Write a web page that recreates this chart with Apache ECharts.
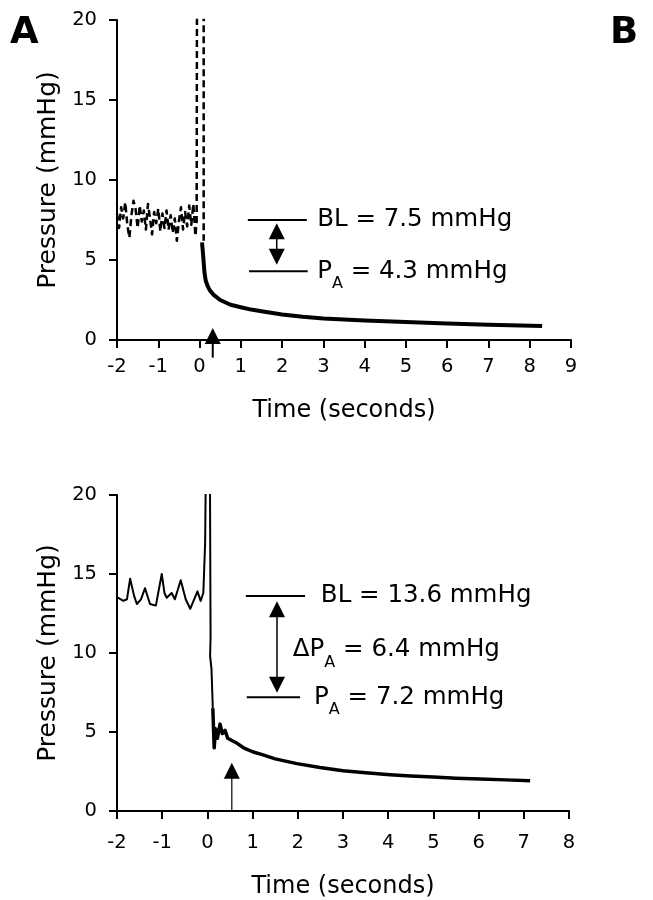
<!DOCTYPE html>
<html><head><meta charset="utf-8">
<script src="https://cdn.jsdelivr.net/npm/echarts@6/dist/echarts.min.js"></script>
<style>html,body{margin:0;padding:0;background:#fff}#c{width:653px;height:900px}</style>
</head><body><div id="c"></div>
<script>
// ---------- data (time in s, pressure in mmHg) ----------
const topXRange = [-2, 9];
const botXRange = [-2, 8];
const yRange = [0, 20];
const yStep = 5;

// Panel A (top): dashed baseline + spike, solid decay
const topBaseline = [
  [-2.00,7.9],[-1.95,7.0],[-1.90,8.3],[-1.85,7.6],[-1.80,8.6],[-1.75,7.2],[-1.70,6.4],[-1.65,7.8],
  [-1.60,8.7],[-1.55,8.2],[-1.50,7.0],[-1.45,8.4],[-1.40,7.4],[-1.35,8.1],[-1.30,6.9],[-1.25,8.5],
  [-1.20,7.6],[-1.15,6.6],[-1.10,8.0],[-1.05,7.3],[-1.00,8.2],[-0.95,6.8],[-0.90,7.9],[-0.85,7.0],
  [-0.80,8.1],[-0.75,6.9],[-0.70,7.8],[-0.65,6.7],[-0.60,7.6],[-0.55,6.2],[-0.50,7.4],[-0.45,8.3],
  [-0.40,6.9],[-0.35,8.0],[-0.30,7.1],[-0.25,8.4],[-0.20,7.2],[-0.15,8.5],[-0.10,6.5],[-0.07,7.4],
  [-0.06,26],[0.10,26],[0.10,6.2]
];
const topDecay = [
  [0.06,6.1],[0.09,5.2],[0.12,4.2],[0.15,3.7],[0.20,3.35],[0.25,3.1],[0.35,2.8],[0.50,2.5],
  [0.75,2.2],[1.00,2.05],[1.25,1.9],[1.50,1.8],[2.00,1.6],[2.50,1.45],[3.00,1.35],[4.00,1.22],
  [5.00,1.12],[6.00,1.03],[7.00,0.96],[8.30,0.88]
];

// Panel A (bottom): solid baseline + spike, thick decay
const botTrace = [
  [-1.98,13.5],[-1.86,13.3],[-1.78,13.4],[-1.71,14.7],[-1.62,13.6],[-1.56,13.1],[-1.47,13.4],
  [-1.38,14.1],[-1.27,13.1],[-1.14,13.0],[-1.01,15.0],[-0.95,13.8],[-0.90,13.5],[-0.79,13.8],
  [-0.72,13.4],[-0.59,14.6],[-0.48,13.4],[-0.38,12.8],[-0.22,13.9],[-0.15,13.3],[-0.09,13.8],
  [-0.05,17.0],[-0.02,26],[0.05,26],[0.07,11.0],[0.06,9.8],[0.09,9.0],[0.12,6.5]
];
const botDecay = [
  [0.12,6.5],[0.15,4.0],[0.18,5.2],[0.22,4.6],[0.28,5.5],[0.33,4.9],[0.39,5.1],[0.45,4.6],
  [0.55,4.45],[0.65,4.3],[0.80,4.0],[1.00,3.75],[1.23,3.55],[1.50,3.3],[1.98,3.0],[2.49,2.75],
  [3.00,2.55],[3.50,2.42],[4.04,2.3],[4.50,2.22],[5.00,2.15],[5.50,2.08],[6.03,2.03],[6.60,1.97],
  [7.14,1.92]
];

// annotations: levels [x1, x2, y], arrows [x, yFrom, yTo], texts at [x, y]
const topLevels = [[1.17, 2.60, 7.5], [1.20, 2.62, 4.3]];
const topDoubleArrow = [1.87, 7.3, 4.7];
const topMarkArrow = [0.32, -1.1, 0.75];
const topTexts = [
  {x: 2.85, y: 7.5, parts: [['n','BL = 7.5 mmHg']]},
  {x: 2.85, y: 4.3, parts: [['n','P'],['s','A'],['n',' = 4.3 mmHg']]}
];
const botLevels = [[0.85, 2.16, 13.6], [0.87, 2.05, 7.2]];
const botDoubleArrow = [1.54, 13.27, 7.49];
const botMarkArrow = [0.54, 0.0, 3.05];
const botTexts = [
  {x: 2.51, y: 13.6, parts: [['n','BL = 13.6 mmHg']]},
  {x: 1.89, y: 10.2, parts: [['n','ΔP'],['s','A'],['n',' = 6.4 mmHg']]},
  {x: 2.36, y: 7.2, parts: [['n','P'],['s','A'],['n',' = 7.2 mmHg']]}
];

// ---------- chart ----------
const FONT = 'DejaVu Sans';
const chart = echarts.init(document.getElementById('c'), null, {renderer: 'canvas'});

function xAxis(gi, range, labelMargin, nameGap) {
  return {
    type: 'value', gridIndex: gi, min: range[0], max: range[1], interval: 1,
    name: 'Time (seconds)', nameLocation: 'middle', nameGap: nameGap,
    nameTextStyle: {fontFamily: FONT, fontSize: 24, color: '#000'},
    axisLine: {onZero: false, lineStyle: {color: '#000', width: 2}},
    axisTick: {show: true, inside: false, length: 8, lineStyle: {color: '#000', width: 2}},
    axisLabel: {fontFamily: FONT, fontSize: 19.5, color: '#000', margin: labelMargin},
    splitLine: {show: false}
  };
}
function yAxis(gi) {
  return {
    type: 'value', gridIndex: gi, min: yRange[0], max: yRange[1], interval: yStep,
    name: 'Pressure (mmHg)', nameLocation: 'middle', nameGap: 56, nameRotate: 90,
    nameTextStyle: {fontFamily: FONT, fontSize: 25, color: '#000'},
    axisLine: {show: true, onZero: false, lineStyle: {color: '#000', width: 2}},
    axisTick: {show: true, inside: false, length: 8, lineStyle: {color: '#000', width: 2}},
    axisLabel: {fontFamily: FONT, fontSize: 19.5, color: '#000', margin: 20},
    splitLine: {show: false}
  };
}
function lineSeries(gi, data, width, type) {
  return {
    type: 'line', xAxisIndex: gi, yAxisIndex: gi, data: data, showSymbol: false, symbol: 'none',
    clip: true, animation: false,
    lineStyle: {color: '#000', width: width, type: type || 'solid', cap: 'butt', join: 'round'}
  };
}

chart.setOption({
  animation: false,
  backgroundColor: '#fff',
  grid: [
    {left: 117, top: 20, width: 454, height: 320},
    {left: 117, top: 495, width: 452, height: 316}
  ],
  xAxis: [xAxis(0, topXRange, 17, 59), xAxis(1, botXRange, 22, 64)],
  yAxis: [yAxis(0), yAxis(1)],
  series: [
    lineSeries(0, topBaseline, 2.5, [7, 4]),
    lineSeries(0, topDecay, 4),
    lineSeries(1, botTrace, 2),
    lineSeries(1, botDecay, 3.5)
  ]
});

function P(gi, x, y) { return chart.convertToPixel({gridIndex: gi}, [x, y]); }

function tri(x, tipY, dir) { // dir -1: pointing up, +1: pointing down
  const h = 16, w = 8;
  return {type: 'polygon', shape: {points: [[x, tipY], [x - w, tipY - dir * h], [x + w, tipY - dir * h]]},
          style: {fill: '#000'}, silent: true};
}
function annotate(gi, levels, dbl, mark, markW, texts) {
  const g = [];
  levels.forEach(l => {
    const a = P(gi, l[0], l[2]), b = P(gi, l[1], l[2]);
    g.push({type: 'line', shape: {x1: a[0], y1: a[1], x2: b[0], y2: b[1]}, style: {stroke: '#000', lineWidth: 2}});
  });
  const t = P(gi, dbl[0], dbl[1]), bm = P(gi, dbl[0], dbl[2]);
  g.push({type: 'line', shape: {x1: t[0], y1: t[1] + 10, x2: bm[0], y2: bm[1] - 10}, style: {stroke: '#000', lineWidth: 1.5}});
  g.push(tri(t[0], t[1], -1));
  g.push(tri(bm[0], bm[1], 1));
  const m0 = P(gi, mark[0], mark[1]), m1 = P(gi, mark[0], mark[2]);
  g.push({type: 'line', shape: {x1: m0[0], y1: m0[1], x2: m1[0], y2: m1[1] + 10}, style: {stroke: '#000', lineWidth: markW}});
  g.push(tri(m1[0], m1[1], -1));
  texts.forEach(tx => {
    const p = P(gi, tx.x, tx.y);
    const str = tx.parts.map(pt => '{' + pt[0] + '|' + pt[1] + '}').join('');
    g.push({type: 'text', x: p[0], y: p[1], silent: true,
      style: {text: str, align: 'left', verticalAlign: 'middle', fill: '#000',
        rich: {
          n: {fontFamily: FONT, fontSize: 24.5, lineHeight: 42, verticalAlign: 'middle', fill: '#000'},
          s: {fontFamily: FONT, fontSize: 16, lineHeight: 15, verticalAlign: 'bottom', fill: '#000'}
        }}});
  });
  return g;
}

const graphics = []
  .concat(annotate(0, topLevels, topDoubleArrow, topMarkArrow, 2, topTexts))
  .concat(annotate(1, botLevels, botDoubleArrow, botMarkArrow, 1.2, botTexts));
graphics.push({type: 'text', left: 10, top: 15, style: {text: 'A', font: 'bold 37px "DejaVu Sans"', fill: '#000'}});
graphics.push({type: 'text', left: 610, top: 15, style: {text: 'B', font: 'bold 37px "DejaVu Sans"', fill: '#000'}});
chart.setOption({graphic: graphics});
</script>
</body></html>
